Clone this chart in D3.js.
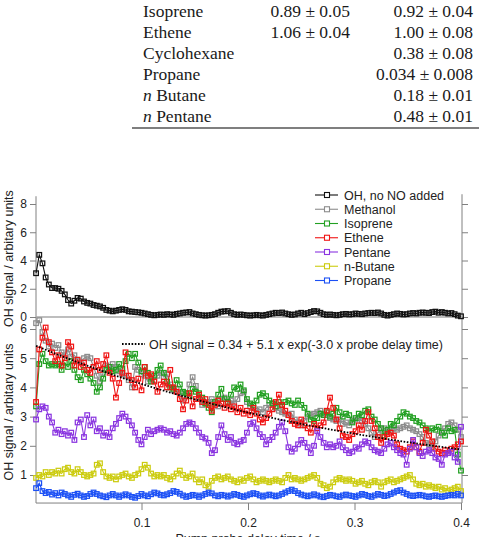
<!DOCTYPE html>
<html lang="en">

<head>
  <meta charset="UTF-8">
  <title>OH signal vs pump probe delay time</title>
  <style>
    html,
    body {
      margin: 0;
      padding: 0;
      background: #fff;
      overflow: hidden;
    }

    svg {
      display: block;
    }

    .tbl {
      font-family: 'Liberation Serif', 'Times New Roman', serif;
      font-size: 17.5px;
      fill: #1a1a1a;
    }

    .axis text,
    .lbl {
      font-family: 'Liberation Sans', Arial, Helvetica, sans-serif;
      fill: #222;
    }

    .axis text {
      font-size: 12px;
    }

    .lbl {
      font-size: 12.5px;
    }

    .axis line,
    .axis path {
      stroke: #808080;
    }
  </style>
  <script src="https://cdnjs.cloudflare.com/ajax/libs/d3/7.8.5/d3.min.js"></script>
</head>

<body>
  <svg id="chart" width="479" height="537"></svg>
  <script>
    //
    // Data
    //

    // table fragment above the figure
    var tableNames = ['Isoprene', 'Ethene', 'Cyclohexane', 'Propane', 'n Butane', 'n Pentane']
    var tableCol2 = ['0.89 ± 0.05', '1.06 ± 0.04', '', '', '', '']
    var tableCol3 = ['0.92 ± 0.04', '1.00 ± 0.08', '0.38 ± 0.08', '0.034 ± 0.008', '0.18 ± 0.01', '0.48 ± 0.01']

    // pump probe delay (s), sampled every 3 ms
    var delayTimes = d3.range(134).map(function (i) { return +(0.001 + 0.003 * i).toFixed(3) })

    // top panel
    var ohNoNO = [
      3.1, 4.4, 3.8, 2.8, 2.3, 2.05, 2.05, 2.0, 1.85, 1.6,
      1.2, 0.95, 1.15, 1.35, 1.3, 1.1, 1.0, 0.95, 0.85, 0.8,
      0.75, 0.65, 0.5, 0.45, 0.4, 0.45, 0.5, 0.55, 0.5, 0.4,
      0.38, 0.35, 0.33, 0.3, 0.25, 0.2, 0.15, 0.12, 0.15, 0.18,
      0.15, 0.2, 0.18, 0.15, 0.22, 0.25, 0.3, 0.32, 0.35, 0.25,
      0.2, 0.15, 0.12, 0.1, 0.12, 0.15, 0.2, 0.3, 0.38, 0.4,
      0.42, 0.3, 0.2, 0.15, 0.18, 0.15, 0.12, 0.1, 0.12, 0.15,
      0.12, 0.1, 0.15, 0.2, 0.25, 0.3, 0.28, 0.32, 0.25, 0.2,
      0.15, 0.18, 0.25, 0.3, 0.2, 0.28, 0.35, 0.42, 0.4, 0.3,
      0.2, 0.15, 0.18, 0.15, 0.12, 0.15, 0.2, 0.22, 0.18, 0.2,
      0.25, 0.22, 0.2, 0.25, 0.28, 0.3, 0.28, 0.32, 0.25, 0.15,
      0.1, 0.15, 0.2, 0.25, 0.22, 0.18, 0.2, 0.25, 0.28, 0.25,
      0.3, 0.32, 0.3, 0.28, 0.35, 0.38, 0.3, 0.35, 0.3, 0.25,
      0.28, 0.2, 0.1, 0.05
    ]

    // bottom panel
    var methanol = [
      6.2, 6.3, 5.9, 5.6, 5.4, 5.5, 5.35, 5.45, 5.2, 5.1,
      5.3, 5.05, 5.1, 4.9, 4.85, 5.0, 5.05, 5.0, 4.7, 4.4,
      4.2, 4.5, 4.75, 4.6, 4.8, 4.7, 4.55, 4.45, 4.4, 4.25,
      4.0, 4.7, 4.6, 4.45, 4.4, 4.2, 4.3, 4.25, 4.4, 4.5,
      4.35, 4.45, 4.1, 3.9, 3.95, 3.8, 3.55, 3.8, 4.1, 4.35,
      4.05, 3.6, 3.4, 3.45, 3.5, 3.6, 3.45, 3.35, 3.6, 3.65,
      3.5, 3.55, 3.45, 3.6, 3.8, 3.85, 3.5, 3.35, 3.3, 3.2,
      3.25, 3.15, 3.3, 3.4, 3.45, 3.3, 3.2, 3.15, 3.1, 3.05,
      3.1, 2.9, 2.8, 2.7, 2.85, 3.0, 3.05, 3.1, 3.15, 3.2,
      3.1, 3.05, 2.95, 2.9, 2.85, 2.9, 2.75, 2.8, 2.7, 2.85,
      2.9, 2.95, 2.85, 2.75, 2.6, 2.45, 2.3, 2.45, 2.55, 2.6,
      2.5, 2.55, 2.6, 2.55, 2.6, 2.65, 2.7, 2.6, 2.55, 2.5,
      2.4, 2.3, 2.1, 2.05, 1.95, 2.15, 2.35, 2.5, 2.6, 2.75,
      2.8, 2.7, 2.55, 2.3
    ]
    var isoprene = [
      3.35, 4.8, 5.15, 4.9, 4.75, 4.8, 4.75, 4.8, 4.6, 4.85,
      4.7, 4.9, 4.6, 4.35, 4.25, 4.6, 4.45, 4.3, 4.15, 3.85,
      4.0, 4.3, 4.6, 4.7, 4.55, 4.6, 4.8, 4.65, 4.9, 5.15,
      5.0, 5.15, 4.85, 4.55, 4.7, 4.5, 4.2, 4.4, 4.6, 4.75,
      4.5, 4.2, 4.0, 3.95, 4.25, 4.1, 3.85, 3.8, 3.7, 3.95,
      3.85, 3.8, 3.65, 3.45, 3.3, 3.15, 3.5, 3.75, 3.95, 3.6,
      3.5, 3.75, 4.0, 3.95, 4.1, 3.9, 3.6, 3.45, 3.4, 3.55,
      3.75, 3.8, 3.7, 3.55, 3.45, 3.35, 3.5, 3.4, 3.5, 3.55,
      3.45, 3.4, 3.55, 3.4, 3.3, 3.1, 2.9, 2.85, 2.95, 3.1,
      3.05, 3.15, 3.0, 3.1, 3.3, 3.15, 3.0, 3.1, 3.05, 2.8,
      2.95, 3.1, 3.05, 3.2, 3.25, 3.0, 2.9, 2.75, 2.6, 2.35,
      2.55, 2.75, 2.7, 2.85, 3.0, 3.15, 3.1, 3.0, 2.95, 2.85,
      2.8, 2.7, 2.6, 2.5, 2.6, 2.55, 2.65, 2.45, 2.35, 2.6,
      2.5, 2.55, 1.7, 1.15
    ]
    var ethene = [
      3.5, 5.3, 5.7, 6.05, 5.55, 5.2, 4.9, 5.1, 4.75, 5.0,
      5.55, 5.4, 4.75, 4.95, 4.7, 4.85, 4.6, 4.5, 4.7, 4.9,
      4.6, 4.8, 5.1, 4.5, 4.3, 3.65, 4.15, 4.5, 5.2, 4.4,
      4.25, 4.0, 4.3, 3.9, 4.7, 4.4, 4.45, 4.2, 3.85, 4.1,
      4.2, 4.0, 4.6, 4.0, 3.85, 3.6, 3.25, 3.55, 3.8, 3.35,
      3.6, 3.75, 3.5, 3.6, 3.4, 3.2, 3.4, 3.55, 3.45, 3.3,
      3.45, 3.25, 3.35, 3.15, 3.3, 3.1, 3.2, 3.05, 3.3, 3.1,
      2.9, 2.8, 2.95, 3.1, 3.25, 3.5, 3.75, 3.4, 3.2, 3.05,
      2.85, 2.75, 2.7, 2.9, 2.7, 2.6, 2.45, 2.75, 2.6, 2.7,
      2.8, 3.2, 3.65, 3.3, 2.9, 2.6, 2.35, 2.3, 2.2, 2.4,
      2.5, 2.7, 2.55, 2.85, 3.15, 2.85, 2.6, 2.3, 2.1, 2.3,
      2.4, 2.45, 2.35, 2.05, 1.9, 1.85, 1.8, 1.95, 2.15, 1.95,
      1.8, 2.1, 2.55, 2.35, 2.15, 1.9, 1.8, 1.75, 1.85, 1.75,
      1.9, 1.95, 2.05, 2.15
    ]
    var pentane = [
      2.9, 3.25, 3.35, 3.3, 3.0, 2.8, 2.45, 2.55, 2.4, 2.5,
      2.35, 2.45, 2.2, 2.8, 2.9, 2.3, 3.05, 2.7, 2.9, 2.5,
      2.6, 2.35, 2.45, 2.3, 2.6, 2.75, 2.95, 3.1, 3.0, 2.85,
      2.7, 2.45, 2.2, 2.05, 2.3, 2.55, 2.4, 2.5, 2.55, 2.6,
      2.55, 2.45, 2.5, 2.4, 2.35, 2.45, 2.6, 2.75, 2.8, 2.75,
      2.6, 2.45, 2.3, 2.25, 2.1, 1.75, 1.85, 2.3, 2.7, 2.4,
      2.2, 2.3, 2.1, 2.05, 2.15, 2.2, 2.45, 2.75, 2.8, 2.6,
      2.4, 2.3, 2.05, 2.2, 2.3, 2.45, 2.65, 2.8, 2.5, 1.95,
      1.8, 1.9, 2.05, 2.2, 2.1, 1.95, 1.75, 2.0, 2.5, 2.3,
      2.1, 1.95, 2.05, 1.95, 2.0, 2.15, 1.95, 1.85, 1.75, 1.8,
      1.95, 1.9, 2.05, 2.15, 2.1, 1.95, 1.85, 1.8, 1.75, 1.9,
      2.05, 2.1, 1.95, 1.85, 1.75, 1.7, 1.35, 1.9, 2.2, 1.95,
      1.75, 1.65, 1.8, 1.85, 1.75, 1.6, 1.55, 1.35, 1.7, 1.75,
      1.8, 1.6, 1.45, 2.65
    ]
    var butane = [
      0.9, 1.0, 0.95, 1.1, 1.0, 1.1, 1.05, 1.15, 1.05, 1.2,
      1.25, 1.1, 1.05, 1.2, 1.1, 1.0, 0.95, 1.0, 1.05, 1.35,
      1.4, 1.1, 0.95, 0.9, 0.95, 0.85, 0.95, 1.0, 1.05, 0.95,
      0.9, 1.0, 1.05, 1.2, 1.35, 1.25, 1.05, 0.95, 1.0, 0.95,
      1.0, 0.9, 0.85, 0.95, 1.05, 1.15, 1.0, 0.9, 0.95, 1.05,
      0.85, 0.75, 0.85, 0.65, 0.6, 0.8, 0.9, 0.95, 0.85, 0.9,
      0.95, 0.85, 0.8, 0.75, 0.85, 0.8, 0.9, 0.95, 0.85, 0.75,
      0.8, 0.85, 0.8, 0.75, 0.8, 0.85, 0.8, 0.75, 0.9, 1.0,
      0.85, 0.9, 0.85, 0.8, 0.85, 0.9, 0.95, 1.0, 0.9, 0.7,
      0.65, 0.55, 0.6, 0.75, 0.85, 0.9, 0.85, 0.8, 0.85, 0.8,
      0.7, 0.75, 0.8, 0.7, 0.65, 0.75, 0.8, 0.75, 0.6, 0.75,
      0.8, 0.85, 0.75, 0.8, 0.85, 0.9, 0.95, 1.0, 0.85, 0.7,
      0.65, 0.7, 0.6, 0.65, 0.6, 0.55, 0.6, 0.5, 0.55, 0.45,
      0.5, 0.55, 0.6, 0.45
    ]
    var propane = [
      0.55, 0.72, 0.45, 0.38, 0.42, 0.33, 0.38, 0.3, 0.4, 0.35,
      0.3, 0.25, 0.32, 0.36, 0.3, 0.25, 0.28, 0.35, 0.4, 0.35,
      0.3, 0.27, 0.24, 0.3, 0.35, 0.3, 0.25, 0.3, 0.34, 0.3,
      0.25, 0.22, 0.28, 0.35, 0.3, 0.27, 0.34, 0.4, 0.37, 0.32,
      0.3, 0.34, 0.38, 0.45, 0.42, 0.36, 0.3, 0.25, 0.28, 0.32,
      0.3, 0.25, 0.3, 0.35, 0.4, 0.37, 0.3, 0.27, 0.32, 0.3,
      0.26, 0.3, 0.35, 0.32, 0.28, 0.25, 0.3, 0.34, 0.38, 0.35,
      0.3, 0.26, 0.3, 0.33, 0.3, 0.27, 0.3, 0.35, 0.4, 0.45,
      0.5, 0.45, 0.38, 0.33, 0.3, 0.27, 0.3, 0.34, 0.3, 0.26,
      0.24, 0.28, 0.32, 0.3, 0.27, 0.25, 0.3, 0.33, 0.3, 0.28,
      0.25, 0.3, 0.35, 0.32, 0.28, 0.25, 0.3, 0.35, 0.32, 0.28,
      0.3, 0.35, 0.4, 0.45, 0.48, 0.4, 0.35, 0.3, 0.28, 0.3,
      0.32, 0.3, 0.27, 0.25, 0.28, 0.3, 0.27, 0.25, 0.28, 0.3,
      0.32, 0.3, 0.35, 0.3
    ]

    // fit drawn in the lower panel: OH = a + b * exp(-k t)
    var fitOffset = 0.34
    var fitAmplitude = 5.1
    var fitRate = 3.0
    var fitLabel = 'OH signal = 0.34 + 5.1 x exp(-3.0 x probe delay time)'

    var legendNames = ['OH, no NO added', 'Methanol', 'Isoprene', 'Ethene', 'Pentane', 'n-Butane', 'Propane']
    var legendColors = ['#111111', '#8c8c8c', '#22a022', '#f01414', '#8a35e0', '#cccc10', '#1c50f5']
    var lowerSeries = [methanol, isoprene, ethene, pentane, butane, propane]

    var xTicks = [0.1, 0.2, 0.3, 0.4]
    var topTicks = [0, 2, 4, 6, 8]
    var bottomTicks = [1, 2, 3, 4, 5, 6]
    var xTitle = 'Pump probe delay time / s'
    var yTitle = 'OH signal / arbitary units'

    //
    // Scales
    //

    var svg = d3.select('#chart')
    var x = d3.scaleLinear().domain([0, 0.4]).range([35, 461])
    var yTop = d3.scaleLinear().domain([0, 8]).range([317, 204])
    var yBot = d3.scaleLinear().domain([1, 6]).range([475, 329])
    var frameTop = yTop(8.55)
    var frameMid = yTop(-0.28)
    var frameBottom = yBot(0.04)
    var markerSize = 4.6

    //
    // Table
    //

    var rowY = d3.scalePoint().domain(tableNames).range([17, 121.5])
    var tbl = svg.append('g').attr('class', 'tbl')

    tableNames.forEach(function (name, i) {
      var t = tbl.append('text').attr('x', 143).attr('y', rowY(name))
      if (name.indexOf('n ') === 0) {
        t.append('tspan').attr('font-style', 'italic').text('n')
        t.append('tspan').text(name.slice(1))
      } else {
        t.text(name)
      }
      tbl.append('text').attr('x', 350).attr('y', rowY(name)).attr('text-anchor', 'end').text(tableCol2[i])
      tbl.append('text').attr('x', 473).attr('y', rowY(name)).attr('text-anchor', 'end').text(tableCol3[i])
    })

    svg.append('line')
      .attr('x1', 132).attr('x2', 479)
      .attr('y1', 128).attr('y2', 128)
      .attr('stroke', '#555').attr('stroke-width', 1.4)

    //
    // Axes and frame
    //

    function axisGroup(axis, tx, ty) {
      var g = svg.append('g').attr('class', 'axis')
        .attr('transform', 'translate(' + tx + ',' + ty + ')')
        .call(axis)
      g.select('.domain').remove()
      return g
    }

    var intFormat = d3.format('d')
    axisGroup(d3.axisLeft(yTop).tickValues(topTicks).tickSize(6).tickPadding(3).tickFormat(intFormat), x(0) + 1, 0)
    axisGroup(d3.axisLeft(yBot).tickValues(bottomTicks).tickSize(6).tickPadding(3).tickFormat(intFormat), x(0) + 1, 0)
    axisGroup(d3.axisRight(yTop).tickValues(topTicks).tickSize(6).tickFormat(''), x(0.4) + 1, 0)
    axisGroup(d3.axisRight(yBot).tickValues(bottomTicks).tickSize(6).tickFormat(''), x(0.4) + 1, 0)
    axisGroup(d3.axisBottom(x).tickValues(xTicks).tickSize(7).tickPadding(8)
      .tickFormat(d3.format('.1f')), 0, frameBottom)

    var frame = svg.append('g').attr('stroke', '#808080').attr('stroke-width', 1)
    frame.append('line').attr('x1', x(0) + 1).attr('x2', x(0) + 1).attr('y1', frameTop).attr('y2', frameBottom)
    frame.append('line').attr('x1', x(0.4) + 1).attr('x2', x(0.4) + 1).attr('y1', frameTop - 2).attr('y2', frameBottom)
    frame.append('line').attr('x1', x(0) + 1).attr('x2', x(0.4) + 1).attr('y1', frameBottom).attr('y2', frameBottom)

    // zero line of the top panel
    svg.append('line')
      .attr('x1', x(0) + 1).attr('x2', x(0.4) + 1)
      .attr('y1', yTop(0)).attr('y2', yTop(0))
      .attr('stroke', '#a8a8a8').attr('stroke-width', 1.5)

    //
    // Series
    //

    function drawSeries(values, yScale, color) {
      var g = svg.append('g')
      var line = d3.line()
        .x(function (d, i) { return x(delayTimes[i]) })
        .y(function (d) { return yScale(d) })
      g.append('path')
        .attr('d', line(values))
        .attr('fill', 'none')
        .attr('stroke', color)
        .attr('stroke-width', 1.1)
      g.selectAll('rect')
        .data(values)
        .enter().append('rect')
        .attr('x', function (d, i) { return x(delayTimes[i]) - markerSize / 2 })
        .attr('y', function (d) { return yScale(d) - markerSize / 2 })
        .attr('width', markerSize)
        .attr('height', markerSize)
        .attr('fill', 'none')
        .attr('stroke', color)
        .attr('stroke-width', 1.25)
    }

    drawSeries(ohNoNO, yTop, legendColors[0])
    lowerSeries.forEach(function (s, i) {
      drawSeries(s, yBot, legendColors[i + 1])
    })

    // fit curve
    var fitLine = d3.line()
      .x(function (t) { return x(t) })
      .y(function (t) { return yBot(fitOffset + fitAmplitude * Math.exp(-fitRate * t)) })
    svg.append('path')
      .attr('d', fitLine(delayTimes))
      .attr('fill', 'none')
      .attr('stroke', '#000')
      .attr('stroke-width', 1.8)
      .attr('stroke-dasharray', '1.6,1.6')

    //
    // Legend and labels
    //

    var legY = d3.scalePoint().domain(legendNames).range([195, 280.5])
    var legend = svg.append('g')
    legendNames.forEach(function (name, i) {
      var cy = legY(name)
      legend.append('line')
        .attr('x1', 315).attr('x2', 338).attr('y1', cy).attr('y2', cy)
        .attr('stroke', legendColors[i]).attr('stroke-width', 1.1)
      legend.append('rect')
        .attr('x', 327 - 2.5).attr('y', cy - 2.5).attr('width', 5).attr('height', 5)
        .attr('fill', '#fff').attr('stroke', legendColors[i]).attr('stroke-width', 1.1)
      legend.append('text').attr('class', 'lbl')
        .attr('x', 344).attr('y', cy + 4.5).text(name)
    })

    svg.append('line')
      .attr('x1', 122).attr('x2', 145).attr('y1', 344).attr('y2', 344)
      .attr('stroke', '#000').attr('stroke-width', 1.8).attr('stroke-dasharray', '1.6,1.6')
    svg.append('text').attr('class', 'lbl')
      .attr('x', 149).attr('y', 348.5).text(fitLabel)

    svg.append('text').attr('class', 'lbl')
      .attr('transform', 'translate(13,' + (frameTop + frameMid) / 2 + ') rotate(-90)')
      .attr('text-anchor', 'middle').text(yTitle)
    svg.append('text').attr('class', 'lbl')
      .attr('transform', 'translate(13,' + (frameMid + frameBottom) / 2 + ') rotate(-90)')
      .attr('text-anchor', 'middle').text(yTitle)
    svg.append('text').attr('class', 'lbl')
      .attr('x', (x(0) + x(0.4)) / 2).attr('y', 543)
      .attr('text-anchor', 'middle').text(xTitle)
  </script>
</body>

</html>
